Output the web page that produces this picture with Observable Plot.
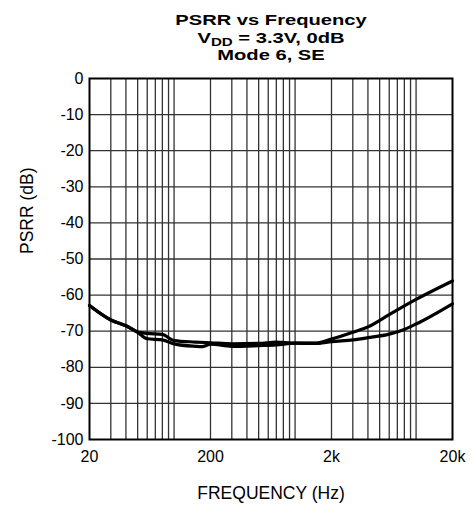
<!DOCTYPE html>
<html>
<head>
<meta charset="utf-8">
<script src="https://cdn.jsdelivr.net/npm/d3@7"></script>
<script src="https://cdn.jsdelivr.net/npm/@observablehq/plot@0.6"></script>
<style>
  html, body { margin: 0; padding: 0; background: #fff; }
  #wrap { position: relative; width: 474px; }
  #title {
    position: relative; height: 60px; width: 474px;
    font-family: "Liberation Sans", Arial, sans-serif; font-weight: bold;
    font-size: 15.5px; line-height: 17.5px; color: #000;
  }
  #title .blk { position: absolute; left: 271px; top: 11px; transform: translateX(-50%) scaleX(1.3); white-space: nowrap; text-align: center; }
  #title sub { font-size: 0.75em; vertical-align: -2.5px; line-height: 0; }
  svg { display: block; }
</style>
</head>
<body>
<div id="wrap">
  <div id="title"><div class="blk">PSRR vs Frequency<br>V<sub>DD</sub> = 3.3V, 0dB<br>Mode 6, SE</div></div>
  <div id="chart"></div>
</div>
<script>
// Curve data
const freqA = [20, 30, 40, 50, 60, 80, 100, 150, 200, 300, 500, 700, 1000, 1500, 2000, 3000, 4000, 6000, 10000, 20000];
const psrrA = [-62.9, -66.9, -68.5, -70.2, -70.6, -70.9, -72.6, -73.0, -73.2, -73.5, -73.4, -73.0, -73.3, -73.3, -72.2, -70.3, -68.8, -65.4, -61.2, -56.1];
const freqB = [20, 30, 40, 50, 60, 80, 100, 150, 170, 200, 300, 500, 700, 1000, 1500, 2000, 3000, 4000, 6000, 8000, 10000, 20000];
const psrrB = [-62.9, -66.9, -68.5, -70.3, -72.1, -72.4, -73.5, -74.2, -74.3, -73.6, -74.2, -74.0, -73.8, -73.3, -73.4, -72.9, -72.4, -71.8, -70.8, -69.5, -68.0, -62.4];

// Axis ticks and grid
const xTickValues = [20, 200, 2000, 20000];
const xTickLabels = ["20", "200", "2k", "20k"];
const yTickValues = [0, -10, -20, -30, -40, -50, -60, -70, -80, -90, -100];
const xGridValues = [30, 40, 50, 60, 70, 80, 90, 100, 200, 300, 400, 500, 600, 700, 800, 900, 1000, 2000, 3000, 4000, 5000, 6000, 7000, 8000, 9000, 10000];
const yGridValues = [-10, -20, -30, -40, -50, -60, -70, -80, -90];
const xLabel = "FREQUENCY (Hz)";
const yLabel = "PSRR (dB)";

const seriesA = freqA.map((f, i) => ({f, v: psrrA[i]}));
const seriesB = freqB.map((f, i) => ({f, v: psrrB[i]}));

const font = "Liberation Sans, Arial, sans-serif";

const chart = Plot.plot({
  width: 474,
  height: 446,
  marginTop: 18,
  marginBottom: 67,
  marginLeft: 89,
  marginRight: 22,
  style: { fontFamily: font, fontSize: "16px", color: "#000", background: "#fff" },
  x: { type: "log", domain: [20, 20000], ticks: xTickValues, tickFormat: d => xTickLabels[xTickValues.indexOf(d)], tickSize: 0, tickPadding: 11, label: null },
  y: { domain: [-100, 0], ticks: yTickValues, tickFormat: d => String(d), tickSize: 0, tickPadding: 6, label: null },
  marks: [
    Plot.ruleX(xGridValues, { stroke: "#333", strokeWidth: 1.3 }),
    Plot.ruleY(yGridValues, { stroke: "#333", strokeWidth: 1.3 }),
    Plot.line(seriesA, { x: "f", y: "v", stroke: "#000", strokeWidth: 3.2, curve: "monotone-x" }),
    Plot.line(seriesB, { x: "f", y: "v", stroke: "#000", strokeWidth: 3.2, curve: "monotone-x" }),
    Plot.frame({ stroke: "#000", strokeWidth: 2 }),
    Plot.text([xLabel], { frameAnchor: "bottom", dy: 54, lineAnchor: "middle", fontSize: 17.5, text: d => d }),
    Plot.text([yLabel], { frameAnchor: "left", dx: -62, dy: -5, rotate: -90, lineAnchor: "middle", fontSize: 17.5, text: d => d })
  ]
});
document.getElementById("chart").appendChild(chart);
</script>
</body>
</html>
